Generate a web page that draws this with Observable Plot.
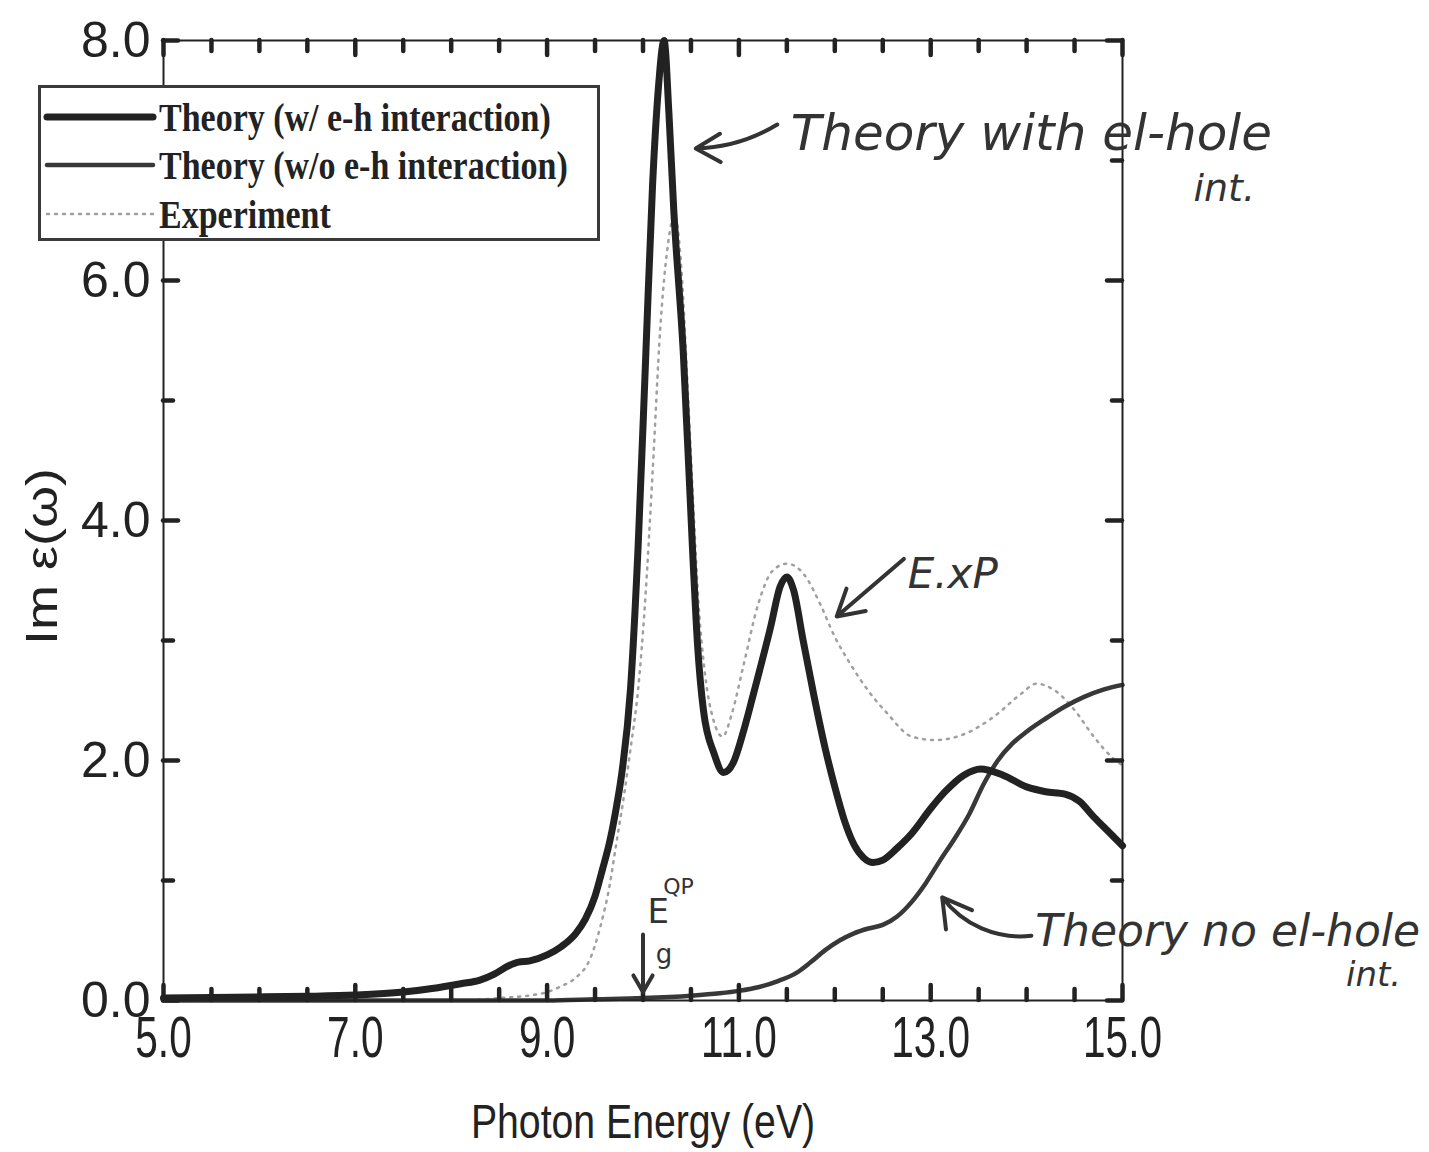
<!DOCTYPE html>
<html>
<head>
<meta charset="utf-8">
<script src="https://cdn.jsdelivr.net/npm/d3@7"></script>
<script src="https://cdn.jsdelivr.net/npm/@observablehq/plot@0.6"></script>
<style>
  html, body { margin: 0; padding: 0; background: #fff; }
  #wrap { position: relative; width: 1429px; height: 1152px; }
  #legend { position: absolute; left: 38px; top: 85px; width: 556px; height: 150px;
            border: 3px solid #3a3a3a; background: #fff; }
  #legend svg { display: block; }
</style>
</head>
<body>
<div id="wrap"></div>
<script>
// ---------- data ----------
const xTicksMajor = [5, 7, 9, 11, 13, 15];
const xTicksMinor = [5.5, 6, 6.5, 7.5, 8, 8.5, 9.5, 10, 10.5, 11.5, 12, 12.5, 13.5, 14, 14.5];
const yTicksMajor = [0, 2, 4, 6, 8];
const yTicksMinor = [1, 3, 5, 7];

const seriesNames = ["Theory (w/ e-h interaction)", "Theory (w/o e-h interaction)", "Experiment"];
const xTitle = "Photon Energy (eV)";
const yTitle = "Im ε(ω)";

// Theory with electron-hole interaction
const withEH_x = [5.0, 5.5, 6.0, 6.5, 7.0, 7.5, 7.8, 8.1, 8.3, 8.45, 8.6, 8.7, 8.82, 9.0, 9.15, 9.3, 9.4, 9.5, 9.58, 9.66, 9.72, 9.78, 9.87, 9.95, 10.03, 10.1, 10.16, 10.22, 10.27, 10.32, 10.42, 10.52, 10.57, 10.63, 10.74, 10.84, 10.94, 11.05, 11.15, 11.33, 11.43, 11.5, 11.57, 11.67, 11.78, 11.9, 12.0, 12.1, 12.2, 12.3, 12.4, 12.5, 12.65, 12.8, 13.0, 13.15, 13.35, 13.52, 13.75, 14.0, 14.2, 14.4, 14.55, 14.7, 14.85, 15.0];
const withEH_y = [0.02, 0.025, 0.03, 0.035, 0.045, 0.07, 0.1, 0.14, 0.17, 0.22, 0.29, 0.32, 0.33, 0.38, 0.45, 0.56, 0.68, 0.87, 1.1, 1.35, 1.6, 1.9, 2.6, 3.8, 5.4, 6.8, 7.6, 8.0, 7.4, 6.6, 5.4, 3.7, 2.95, 2.42, 2.06, 1.9, 1.98, 2.25, 2.55, 3.11, 3.45, 3.53, 3.42, 3.0, 2.55, 2.1, 1.78, 1.5, 1.3, 1.19, 1.15, 1.17, 1.27, 1.39, 1.6, 1.74, 1.88, 1.93, 1.88, 1.78, 1.74, 1.72, 1.66, 1.53, 1.41, 1.29];

// Theory without electron-hole interaction
const noEH_x = [5.0, 6.0, 7.0, 8.0, 9.0, 9.5, 10.0, 10.5, 10.8, 11.0, 11.2, 11.4, 11.6, 11.75, 11.9, 12.05, 12.2, 12.35, 12.5, 12.65, 12.8, 12.95, 13.1, 13.25, 13.4, 13.55, 13.7, 13.85, 14.0, 14.2, 14.4, 14.6, 14.8, 15.0];
const noEH_y = [0.0, 0.0, 0.0, 0.0, 0.0, 0.01, 0.02, 0.04, 0.06, 0.08, 0.11, 0.16, 0.23, 0.32, 0.42, 0.5, 0.56, 0.6, 0.63, 0.7, 0.82, 0.98, 1.17, 1.35, 1.55, 1.8, 2.0, 2.14, 2.24, 2.35, 2.45, 2.53, 2.59, 2.63];

// Experiment
const exp_x = [8.2, 8.5, 8.8, 9.0, 9.15, 9.3, 9.45, 9.55, 9.65, 9.72, 9.8, 9.87, 9.95, 10.02, 10.1, 10.18, 10.26, 10.33, 10.4, 10.46, 10.52, 10.58, 10.65, 10.73, 10.83, 10.93, 11.05, 11.2, 11.35, 11.5, 11.68, 11.85, 12.0, 12.15, 12.35, 12.55, 12.8, 13.05, 13.35, 13.65, 13.95, 14.1, 14.3, 14.5, 14.7, 14.9, 15.0];
const exp_y = [0.0, 0.02, 0.04, 0.07, 0.12, 0.19, 0.35, 0.6, 0.95, 1.3, 1.7, 2.1, 2.6, 3.3, 4.4, 5.6, 6.3, 6.55, 6.1, 5.2, 4.2, 3.3, 2.7, 2.35, 2.2, 2.4, 2.8, 3.3, 3.58, 3.64, 3.55, 3.3, 3.03, 2.82, 2.58, 2.39, 2.2, 2.17, 2.22, 2.36, 2.56, 2.64, 2.58, 2.42, 2.2, 2.02, 1.96];

// Handwritten annotations (data units, text starts at x)
const noteText = ["Theory with el-hole", "int.", "E.xP", "Theory no el-hole", "int."];
const noteX = [11.54, 15.74, 12.76, 14.09, 17.33];
const noteY = [7.22, 6.76, 3.55, 0.57, 0.21];
const noteSize = [50, 38, 42, 44, 34];
// annotation arrows
const arrowX1 = [11.4, 12.72, 10.0, 14.05];
const arrowY1 = [7.3, 3.68, 0.55, 0.54];
const arrowX2 = [10.55, 12.02, 10.0, 13.12];
const arrowY2 = [7.1, 3.2, 0.07, 0.86];
const arrowBend = [15, 0, 0, 30];

// ---------- build tables ----------
const withEH = withEH_x.map((x, i) => ({x, y: withEH_y[i]}));
const noEH = noEH_x.map((x, i) => ({x, y: noEH_y[i]}));
const expt = exp_x.map((x, i) => ({x, y: exp_y[i]}));
const notes = noteText.map((t, i) => ({t, x: noteX[i], y: noteY[i], s: noteSize[i]}));
const arrows = arrowX1.map((x1, i) => ({x1, y1: arrowY1[i], x2: arrowX2[i], y2: arrowY2[i], b: arrowBend[i]}));

const W = 1429, H = 1152, mL = 163, mR = 307, mT = 40, mB = 152;
const innerW = W - mL - mR, innerH = H - mT - mB;
const ink = "#222";
const sans = "'Liberation Sans', Arial, Helvetica, sans-serif";
const hand = "'DejaVu Sans', 'Noto Sans', sans-serif";
const tickStyle = {stroke: ink, strokeWidth: 4.5, strokeLinecap: "round"};

const chart = Plot.plot({
  width: W, height: H,
  marginLeft: mL, marginRight: mR, marginTop: mT, marginBottom: mB,
  x: {domain: [5, 15]},
  y: {domain: [0, 8]},
  style: {fontFamily: sans, color: ink, background: "#fff"},
  marks: [
    // experiment (dotted, light grey)
    Plot.line(expt, {x: "x", y: "y", curve: "monotone-x", stroke: "#a0a0a0", strokeWidth: 2.5, strokeDasharray: "2,6", strokeLinecap: "round"}),
    // theory without e-h
    Plot.line(noEH, {x: "x", y: "y", curve: "monotone-x", stroke: "#383838", strokeWidth: 4.5}),
    // theory with e-h
    Plot.line(withEH, {x: "x", y: "y", curve: "monotone-x", stroke: ink, strokeWidth: 7, strokeLinejoin: "round"}),
    // frame
    Plot.frame({stroke: ink, strokeWidth: 2}),
    // inward ticks: bottom & top
    Plot.ruleX(xTicksMajor, {x: d => d, insetTop: innerH - 15, ...tickStyle}),
    Plot.ruleX(xTicksMinor, {x: d => d, insetTop: innerH - 11, ...tickStyle}),
    Plot.ruleX(xTicksMajor, {x: d => d, insetBottom: innerH - 15, ...tickStyle}),
    Plot.ruleX(xTicksMinor, {x: d => d, insetBottom: innerH - 11, ...tickStyle}),
    // inward ticks: left & right
    Plot.ruleY(yTicksMajor, {y: d => d, insetRight: innerW - 15, ...tickStyle}),
    Plot.ruleY(yTicksMinor, {y: d => d, insetRight: innerW - 10, ...tickStyle}),
    Plot.ruleY(yTicksMajor, {y: d => d, insetLeft: innerW - 15, ...tickStyle}),
    Plot.ruleY(yTicksMinor, {y: d => d, insetLeft: innerW - 10, ...tickStyle}),
    // tick labels
    Plot.axisX({ticks: xTicksMajor, tickSize: 0, tickPadding: 15, tickFormat: d => d.toFixed(1), fontSize: 58, label: null, fill: ink}),
    Plot.axisY({ticks: yTicksMajor, tickSize: 0, tickPadding: 13, tickFormat: d => d.toFixed(1), fontSize: 50, label: null, fill: ink}),
    // axis titles
    Plot.text([xTitle], {frameAnchor: "bottom", dy: 122, fontSize: 49, fill: ink, lineAnchor: "middle", textAnchor: "middle"}),
    Plot.text([yTitle], {y: [3.7], text: d => d, frameAnchor: "left", dx: -121, rotate: -90, fontSize: 54, fill: ink, textAnchor: "middle", lineAnchor: "middle"}),
    // annotations
    ...arrows.map(a => Plot.arrow([a], {x1: "x1", y1: "y1", x2: "x2", y2: "y2", bend: a.b, stroke: "#333", strokeWidth: 4, headLength: 20, clip: false})),
    Plot.text(notes, {x: "x", y: "y", text: "t", fontSize: "s", textAnchor: "start", fontFamily: hand, fontStyle: "italic", fill: "#333", clip: false}),
    Plot.text(["E"], {x: [10.16], y: [0.74], text: d => d, fontSize: 34, fontFamily: hand, fill: "#333"}),
    Plot.text(["QP"], {x: [10.37], y: [0.95], text: d => d, fontSize: 22, fontFamily: hand, fill: "#333"}),
    Plot.text(["g"], {x: [10.22], y: [0.38], text: d => d, fontSize: 26, fontFamily: hand, fill: "#333"})
  ]
});

// condense some texts (the scanned figure looks narrow)
function condense(sel, sx, sy = 1) {
  sel.each(function() {
    const t = d3.select(this);
    const tr = t.attr("transform");
    if (tr) t.attr("transform", tr + ` scale(${sx},${sy})`);
    else {
      const x = +t.attr("x") || 0, y = +t.attr("y") || 0;
      t.attr("transform", `translate(${x},${y}) scale(${sx},${sy}) translate(${-x},${-y})`);
    }
  });
}
const root = d3.select(chart);
condense(root.selectAll('g[aria-label="x-axis tick label"] text'), 0.7);
condense(root.selectAll("text").filter(function() { return this.textContent === xTitle; }), 0.8);
condense(root.selectAll("text").filter(function() { return this.textContent === yTitle; }), 1, 0.82);

const wrap = document.getElementById("wrap");
wrap.appendChild(chart);

// legend overlay
const legend = document.createElement("div");
legend.id = "legend";
const rows = [
  {name: seriesNames[0], stroke: ink, width: 7, dash: null},
  {name: seriesNames[1], stroke: "#383838", width: 4.5, dash: null},
  {name: seriesNames[2], stroke: "#a0a0a0", width: 2.5, dash: "2,6"}
];
const rowY = [29, 77, 126];
let svg = `<svg width="556" height="150" xmlns="http://www.w3.org/2000/svg">`;
rows.forEach((r, i) => {
  svg += `<line x1="6" x2="112" y1="${rowY[i]}" y2="${rowY[i]}" stroke="${r.stroke}" stroke-width="${r.width}" stroke-linecap="round" ${r.dash ? `stroke-dasharray="${r.dash}"` : ""}/>`;
  svg += `<text transform="translate(118,${rowY[i]}) scale(0.85,1)" dy="0.35em" font-family="'Liberation Serif', 'DejaVu Serif', serif" font-weight="bold" font-size="40" fill="${ink}">${r.name}</text>`;
});
svg += `</svg>`;
legend.innerHTML = svg;
wrap.appendChild(legend);
</script>
</body>
</html>
